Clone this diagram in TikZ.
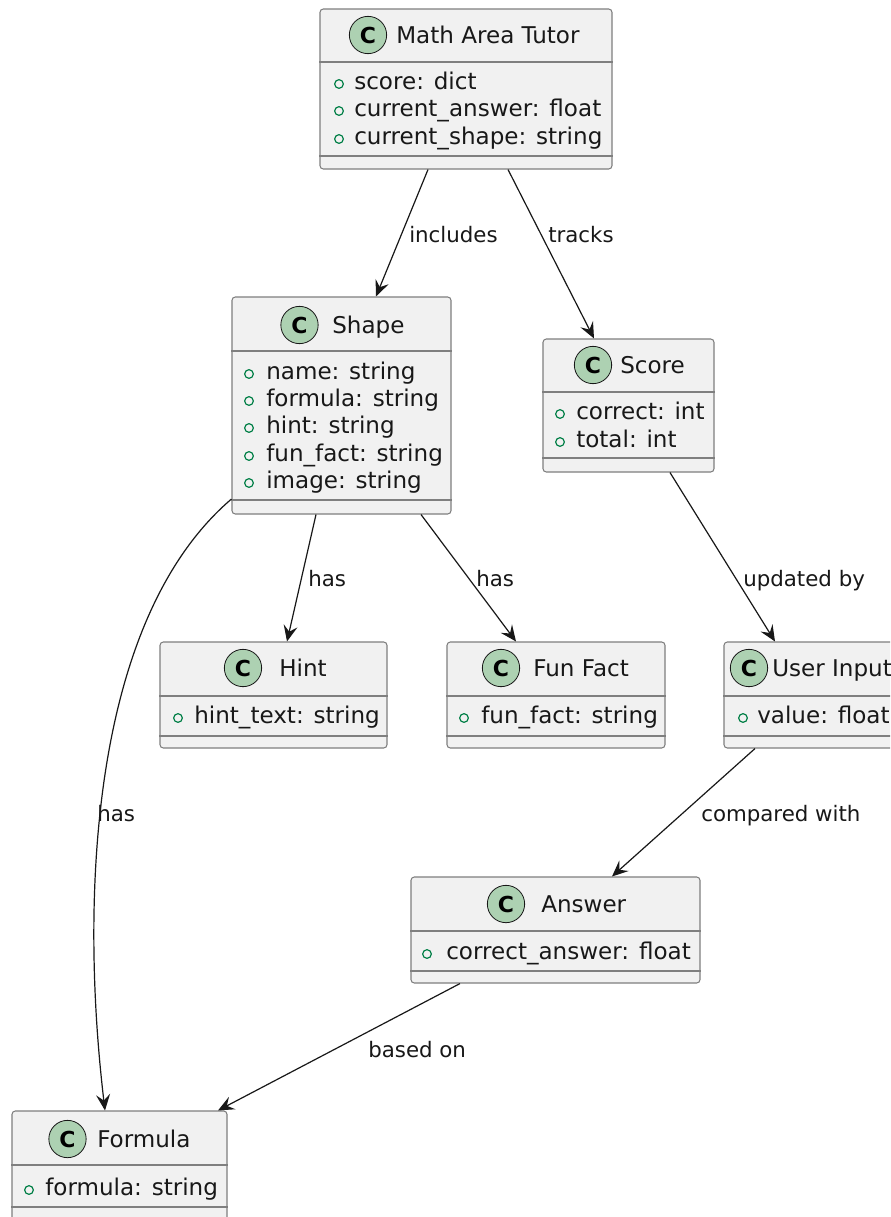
\documentclass[tikz,border=0pt]{standalone}
\usepackage{fontspec}
\setmainfont{DejaVu Sans}
\usetikzlibrary{arrows.meta,fit}
\definecolor{boxfill}{HTML}{F1F1F1}
\definecolor{boxline}{HTML}{7F7F7F}
\definecolor{cgreen}{HTML}{ADD1B2}
\definecolor{attgreen}{HTML}{038048}
\definecolor{ink}{HTML}{181818}
\tikzset{
  box/.style={draw=boxline, fill=boxfill, rounded corners=2.5pt, line width=0.8pt, inner sep=0pt},
  divider/.style={draw=boxline, line width=0.8pt},
  badge/.style={circle, draw=ink, line width=0.6pt, fill=cgreen, minimum size=28pt, inner sep=0pt, font=\fontsize{16.5}{16.5}\selectfont\bfseries},
  ttl/.style={anchor=west, font=\fontsize{17.3}{20}\selectfont, inner sep=0pt, text=ink, text height=0.72em, text depth=0.2em, yshift=-3.75pt},
  att/.style={ttl},
  adot/.style={circle, draw=attgreen, line width=0.9pt, minimum size=6.5pt, inner sep=0pt, yshift=-2.25pt},
  lbl/.style={anchor=west, font=\fontsize{16}{18}\selectfont, inner sep=0pt, text=ink, text height=0.72em, text depth=0.2em, yshift=-3.75pt},
  arr/.style={draw=ink, line width=0.9pt, -{Stealth[length=12pt,width=10.5pt,inset=4.5pt]}}
}
\begin{document}
\begin{tikzpicture}[x=0.75pt,y=-0.75pt]
\path[fill=white,use as bounding box] (0,0) rectangle (890,1217);
\clip (0,0) rectangle (890,1217);

% Math Area Tutor
\node[box, fit={(320,9) (612,169)}] (tutor) {};
\draw[divider] (tutor.west |- 0,62) -- (tutor.east |- 0,62);
\draw[divider] (tutor.west |- 0,156) -- (tutor.east |- 0,156);
\node[badge] (tutorC) at (368,35) {C};
\node[ttl] (tutorT) at (396,35) {Math Area Tutor};
\node[adot] (tutorD1) at (339,81) {};
\node[att] (tutorA1) at (354,81) {score: dict};
\node[adot] (tutorD2) at (339,108) {};
\node[att] (tutorA2) at (354,108) {current\_answer: float};
\node[adot] (tutorD3) at (339,136) {};
\node[att] (tutorA3) at (354,136) {current\_shape: string};

% Shape
\node[box, fit={(232,297) (451,514)}] (shape) {};
\draw[divider] (shape.west |- 0,351) -- (shape.east |- 0,351);
\draw[divider] (shape.west |- 0,500) -- (shape.east |- 0,500);
\node[badge] (shapeC) at (299.5,325) {C};
\node[ttl] (shapeT) at (332,325) {Shape};
\node[adot] (shapeD1) at (249,371) {};
\node[att] (shapeA1) at (266,371) {name: string};
\node[adot] (shapeD2) at (249,398) {};
\node[att] (shapeA2) at (266,398) {formula: string};
\node[adot] (shapeD3) at (249,425) {};
\node[att] (shapeA3) at (266,425) {hint: string};
\node[adot] (shapeD4) at (249,453) {};
\node[att] (shapeA4) at (266,453) {fun\_fact: string};
\node[adot] (shapeD5) at (249,480) {};
\node[att] (shapeA5) at (266,480) {image: string};

% Score
\node[box, fit={(543,339) (714,472)}] (score) {};
\draw[divider] (score.west |- 0,392) -- (score.east |- 0,392);
\draw[divider] (score.west |- 0,458) -- (score.east |- 0,458);
\node[badge] (scoreC) at (593,365) {C};
\node[ttl] (scoreT) at (620,365) {Score};
\node[adot] (scoreD1) at (560,411) {};
\node[att] (scoreA1) at (576,411) {correct: int};
\node[adot] (scoreD2) at (560,439) {};
\node[att] (scoreA2) at (576,439) {total: int};

% Hint
\node[box, fit={(160,642) (387,748)}] (hint) {};
\draw[divider] (hint.west |- 0,696) -- (hint.east |- 0,696);
\draw[divider] (hint.west |- 0,736) -- (hint.east |- 0,736);
\node[badge] (hintC) at (243,668) {C};
\node[ttl] (hintT) at (279,668) {Hint};
\node[adot] (hintD1) at (178,715) {};
\node[att] (hintA1) at (194,715) {hint\_text: string};

% Fun Fact
\node[box, fit={(447,642) (665,748)}] (funfact) {};
\draw[divider] (funfact.west |- 0,696) -- (funfact.east |- 0,696);
\draw[divider] (funfact.west |- 0,736) -- (funfact.east |- 0,736);
\node[badge] (funfactC) at (501,668) {C};
\node[ttl] (funfactT) at (533,668) {Fun Fact};
\node[adot] (funfactD1) at (464,715) {};
\node[att] (funfactA1) at (481,715) {fun\_fact: string};

% User Input
\node[box, fit={(724,642) (905,748)}] (userinput) {};
\draw[divider] (userinput.west |- 0,696) -- (userinput.east |- 0,696);
\draw[divider] (userinput.west |- 0,736) -- (userinput.east |- 0,736);
\node[badge] (userinputC) at (749,668) {C};
\node[ttl] (userinputT) at (772,668) {User Input};
\node[adot] (userinputD1) at (743,715) {};
\node[att] (userinputA1) at (757,715) {value: float};

% Answer
\node[box, fit={(411,877) (700,983)}] (answer) {};
\draw[divider] (answer.west |- 0,931) -- (answer.east |- 0,931);
\draw[divider] (answer.west |- 0,971) -- (answer.east |- 0,971);
\node[badge] (answerC) at (506,904) {C};
\node[ttl] (answerT) at (541,904) {Answer};
\node[adot] (answerD1) at (427,951) {};
\node[att] (answerA1) at (446,951) {correct\_answer: float};

% Formula
\node[box, fit={(12,1111) (227,1240)}] (formula) {};
\draw[divider] (formula.west |- 0,1165) -- (formula.east |- 0,1165);
\draw[divider] (formula.west |- 0,1207) -- (formula.east |- 0,1207);
\node[badge] (formulaC) at (67.5,1139) {C};
\node[ttl] (formulaT) at (97,1139) {Formula};
\node[adot] (formulaD1) at (29,1187) {};
\node[att] (formulaA1) at (45,1187) {formula: string};

% Connectors
\draw[arr] (428,0 |- tutor.south) -- (376,0 |- shape.north);
\node[lbl] (l1) at (409,234) {includes};
\draw[arr] (508,0 |- tutor.south) -- (594,0 |- score.north);
\node[lbl] (l2) at (548,234) {tracks};
\draw[arr] (316,0 |- shape.south) -- (287,0 |- hint.north);
\node[lbl] (l3) at (308,578) {has};
\draw[arr] (421,0 |- shape.south) -- (516,0 |- funfact.north);
\node[lbl] (l4) at (476,578) {has};
\draw[arr] (shape.west |- 0,499) .. controls (90,620) and (80,900) .. (105,0 |- formula.north);
\node[lbl] (l5) at (97,813) {has};
\draw[arr] (670,0 |- score.south) -- (775,0 |- userinput.north);
\node[lbl] (l6) at (743,578) {updated by};
\draw[arr] (755,0 |- userinput.south) -- (612,0 |- answer.north);
\node[lbl] (l7) at (701,813) {compared with};
\draw[arr] (460,0 |- answer.south) -- (218,0 |- formula.north);
\node[lbl] (l8) at (368,1049) {based on};
\end{tikzpicture}
\end{document}
